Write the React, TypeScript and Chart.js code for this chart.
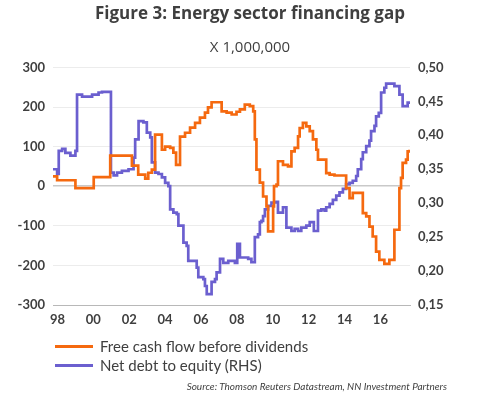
import React, { useEffect, useRef } from 'react';
import { Chart, registerables } from 'chart.js';

Chart.register(...registerables);

// Free cash flow before dividends (left axis, X 1,000,000)
const fcfYears = [
  1997.74, 1997.98, 1999.0, 2000.02, 2000.94, 2002.15, 2002.5, 2002.89, 2003.06, 2003.26,
  2003.44, 2003.82, 2004.0, 2004.28, 2004.46, 2004.61, 2004.83, 2005.11, 2005.39, 2005.67,
  2005.94, 2006.22, 2006.39, 2006.59, 2007.15, 2007.43, 2007.71, 2007.98, 2008.17, 2008.44,
  2008.72, 2008.91, 2009.0, 2009.09, 2009.28, 2009.46, 2009.65, 2009.74, 2010.02, 2010.07,
  2010.21, 2010.29, 2010.57, 2010.85, 2011.04, 2011.22, 2011.41, 2011.5, 2011.68, 2011.87,
  2012.06, 2012.24, 2012.43, 2012.52, 2012.98, 2013.17, 2013.44, 2014.09, 2014.28, 2014.46,
  2015.02, 2015.21, 2015.39, 2015.57, 2015.76, 2015.94, 2016.22, 2016.5, 2016.78, 2017.06,
  2017.15, 2017.24, 2017.43, 2017.52, 2017.61,
];
const fcfValues = [
  25, 15, -5, 23, 77, 52, 29, 19, 34, 42,
  130, 92, 100, 97, 85, 54, 125, 135, 148, 160,
  173, 186, 199, 212, 189, 186, 181, 188, 194, 206,
  202, 189, 118, 42, 9, -26, -51, -114, -51, 0,
  4, 63, 54, 50, 88, 97, 126, 147, 160, 151,
  139, 118, 92, 67, 33, 29, 27, -5, -30, -17,
  -68, -76, -102, -127, -165, -186, -196, -186, -110, -5,
  21, 59, 67, 88, 92,
];

// Net debt to equity (right axis)
const ndeYears = [
  1997.74, 1997.98, 1998.07, 1998.26, 1998.44, 1998.72, 1999.0, 1999.09, 1999.37, 1999.93,
  2000.29, 2000.48, 2000.98, 2001.13, 2001.32, 2001.59, 2001.96, 2002.24, 2002.33, 2002.52,
  2002.79, 2002.98, 2003.17, 2003.26, 2003.44, 2003.63, 2003.82, 2004.0, 2004.18, 2004.28,
  2004.46, 2004.65, 2004.74, 2005.02, 2005.2, 2005.29, 2005.76, 2005.85, 2006.13, 2006.22,
  2006.32, 2006.59, 2006.78, 2006.87, 2007.06, 2007.24, 2007.52, 2007.89, 2008.02, 2008.17,
  2008.63, 2008.81, 2009.0, 2009.18, 2009.28, 2009.37, 2009.46, 2009.56, 2009.74, 2009.93,
  2010.21, 2010.29, 2010.57, 2010.76, 2011.04, 2011.22, 2011.41, 2011.59, 2011.87, 2012.06,
  2012.29, 2012.52, 2012.71, 2012.89, 2012.98, 2013.17, 2013.35, 2013.54, 2013.72, 2013.91,
  2014.09, 2014.28, 2014.46, 2014.65, 2014.74, 2014.93, 2015.02, 2015.21, 2015.39, 2015.48,
  2015.67, 2015.76, 2015.91, 2016.04, 2016.22, 2016.32, 2016.59, 2016.78, 2017.06, 2017.24,
  2017.52, 2017.61,
];
const ndeValues = [
  0.35, 0.343, 0.377, 0.38, 0.374, 0.37, 0.377, 0.46, 0.457, 0.46,
  0.463, 0.464, 0.345, 0.341, 0.345, 0.3475, 0.35, 0.367, 0.394, 0.421,
  0.419, 0.404, 0.397, 0.36, 0.345, 0.343, 0.338, 0.33, 0.325, 0.291,
  0.286, 0.284, 0.267, 0.242, 0.237, 0.215, 0.205, 0.191, 0.188, 0.178,
  0.166, 0.184, 0.188, 0.198, 0.218, 0.212, 0.215, 0.212, 0.24, 0.22,
  0.218, 0.213, 0.25, 0.254, 0.272, 0.274, 0.281, 0.291, 0.296, 0.301,
  0.302, 0.286, 0.294, 0.264, 0.259, 0.262, 0.259, 0.264, 0.267, 0.272,
  0.259, 0.289, 0.291, 0.289, 0.294, 0.299, 0.305, 0.311, 0.316, 0.321,
  0.328, 0.33, 0.333, 0.34, 0.35, 0.365, 0.375, 0.384, 0.392, 0.406,
  0.414, 0.428, 0.433, 0.463, 0.47, 0.476, 0.476, 0.4725, 0.46, 0.443,
  0.448, 0.446,
];

const xTickYears = [1998, 2000, 2002, 2004, 2006, 2008, 2010, 2012, 2014, 2016];
const leftTicks = [-300, -200, -100, 0, 100, 200, 300];
const rightTicks = [0.15, 0.2, 0.25, 0.3, 0.35, 0.4, 0.45, 0.5];

const titleText = 'Figure 3: Energy sector financing gap';
const subtitleText = 'X 1,000,000';
const seriesNames = ['Free cash flow before dividends', 'Net debt to equity (RHS)'];
const sourceText = 'Source: Thomson Reuters Datastream, NN Investment Partners';

const ORANGE = '#f5690f';
const PURPLE = '#6b5fcf';
const TEXT = '#3f3f3f';
const FONT = 'Lato, "Open Sans", sans-serif';
const TITLE_FONT = '"Open Sans", Lato, sans-serif';

export default function App() {
  const ref = useRef<HTMLCanvasElement | null>(null);

  useEffect(() => {
    if (!ref.current) return;
    const chart = new Chart(ref.current, {
      type: 'line',
      data: {
        datasets: [
          {
            label: seriesNames[0],
            data: fcfYears.map((x, i) => ({ x, y: fcfValues[i] })),
            borderColor: ORANGE,
            backgroundColor: ORANGE,
            borderWidth: 2.7,
            pointRadius: 0,
            stepped: true,
            yAxisID: 'y',
          },
          {
            label: seriesNames[1],
            data: ndeYears.map((x, i) => ({ x, y: ndeValues[i] })),
            borderColor: PURPLE,
            backgroundColor: PURPLE,
            borderWidth: 2.7,
            pointRadius: 0,
            stepped: true,
            yAxisID: 'y1',
          },
        ],
      },
      options: {
        responsive: false,
        animation: false,
        layout: { padding: { top: 4, left: 0, right: 0, bottom: 0 } },
        plugins: {
          legend: { display: false },
          tooltip: { enabled: false },
          title: {
            display: true,
            text: titleText,
            color: TEXT,
            font: { family: TITLE_FONT, size: 17, weight: 'bold' },
            padding: { top: 0, bottom: 14 },
          },
          subtitle: {
            display: true,
            text: subtitleText,
            color: TEXT,
            font: { family: TITLE_FONT, size: 15, weight: 'normal' },
            padding: { top: 0, bottom: 11 },
          },
        },
        scales: {
          x: {
            type: 'linear',
            min: 1997.75,
            max: 2017.65,
            afterBuildTicks: (scale: any) => {
              scale.ticks = xTickYears.map((v) => ({ value: v }));
            },
            afterFit: (scale: any) => {
              scale.height = 35;
            },
            ticks: {
              autoSkip: false,
              maxRotation: 0,
              padding: 7,
              color: TEXT,
              font: { family: FONT, size: 13, weight: 'bold' },
              callback: (v: any) => String(Number(v) % 100).padStart(2, '0'),
            },
            grid: { display: false, drawTicks: false },
            border: { display: true, color: '#b8b8b8', dash: [2, 2], width: 1 },
          },
          y: {
            type: 'linear',
            position: 'left',
            min: -300,
            max: 300,
            afterBuildTicks: (scale: any) => {
              scale.ticks = leftTicks.map((v) => ({ value: v }));
            },
            afterFit: (scale: any) => {
              scale.width = 53;
            },
            ticks: {
              padding: 8,
              color: TEXT,
              font: { family: FONT, size: 13, weight: 'bold' },
              callback: (v: any) => String(v),
            },
            grid: {
              drawTicks: false,
              color: (ctx: any) =>
                ctx.tick && ctx.tick.value === 0
                  ? '#c9c9c9'
                  : ctx.tick && ctx.tick.value === -300
                  ? 'rgba(0,0,0,0)'
                  : '#ececec',
              lineWidth: (ctx: any) => (ctx.tick && ctx.tick.value === 0 ? 1.5 : 1),
            },
            border: { display: false },
          },
          y1: {
            type: 'linear',
            position: 'right',
            min: 0.15,
            max: 0.5,
            afterBuildTicks: (scale: any) => {
              scale.ticks = rightTicks.map((v) => ({ value: v }));
            },
            afterFit: (scale: any) => {
              scale.width = 90;
            },
            ticks: {
              padding: 8,
              color: TEXT,
              font: { family: FONT, size: 13, weight: 'bold' },
              callback: (v: any) => Number(v).toFixed(2).replace('.', ','),
            },
            grid: { display: false, drawTicks: false },
            border: { display: false },
          },
        },
      },
    } as any);
    return () => chart.destroy();
  }, []);

  const legendRow = (color: string, text: string, top: number) => (
    <div
      style={{
        position: 'absolute',
        left: 55,
        top,
        height: 20,
        display: 'flex',
        alignItems: 'center',
      }}
    >
      <div style={{ width: 38, height: 3, background: color, marginRight: 7 }} />
      <span style={{ fontFamily: FONT, fontSize: 15, color: TEXT, whiteSpace: 'nowrap' }}>{text}</span>
    </div>
  );

  return (
    <div
      style={{
        position: 'absolute',
        left: 0,
        top: 0,
        width: 500,
        height: 397,
        background: '#fff',
        overflow: 'hidden',
      }}
    >
      <canvas ref={ref} width={500} height={340} style={{ position: 'absolute', left: 0, top: 0 }} />
      {legendRow(ORANGE, seriesNames[0], 336)}
      {legendRow(PURPLE, seriesNames[1], 355)}
      <div
        style={{
          position: 'absolute',
          right: 53,
          top: 380,
          fontFamily: FONT,
          fontSize: 10,
          fontStyle: 'italic',
          color: TEXT,
          whiteSpace: 'nowrap',
        }}
      >
        {sourceText}
      </div>
    </div>
  );
}
